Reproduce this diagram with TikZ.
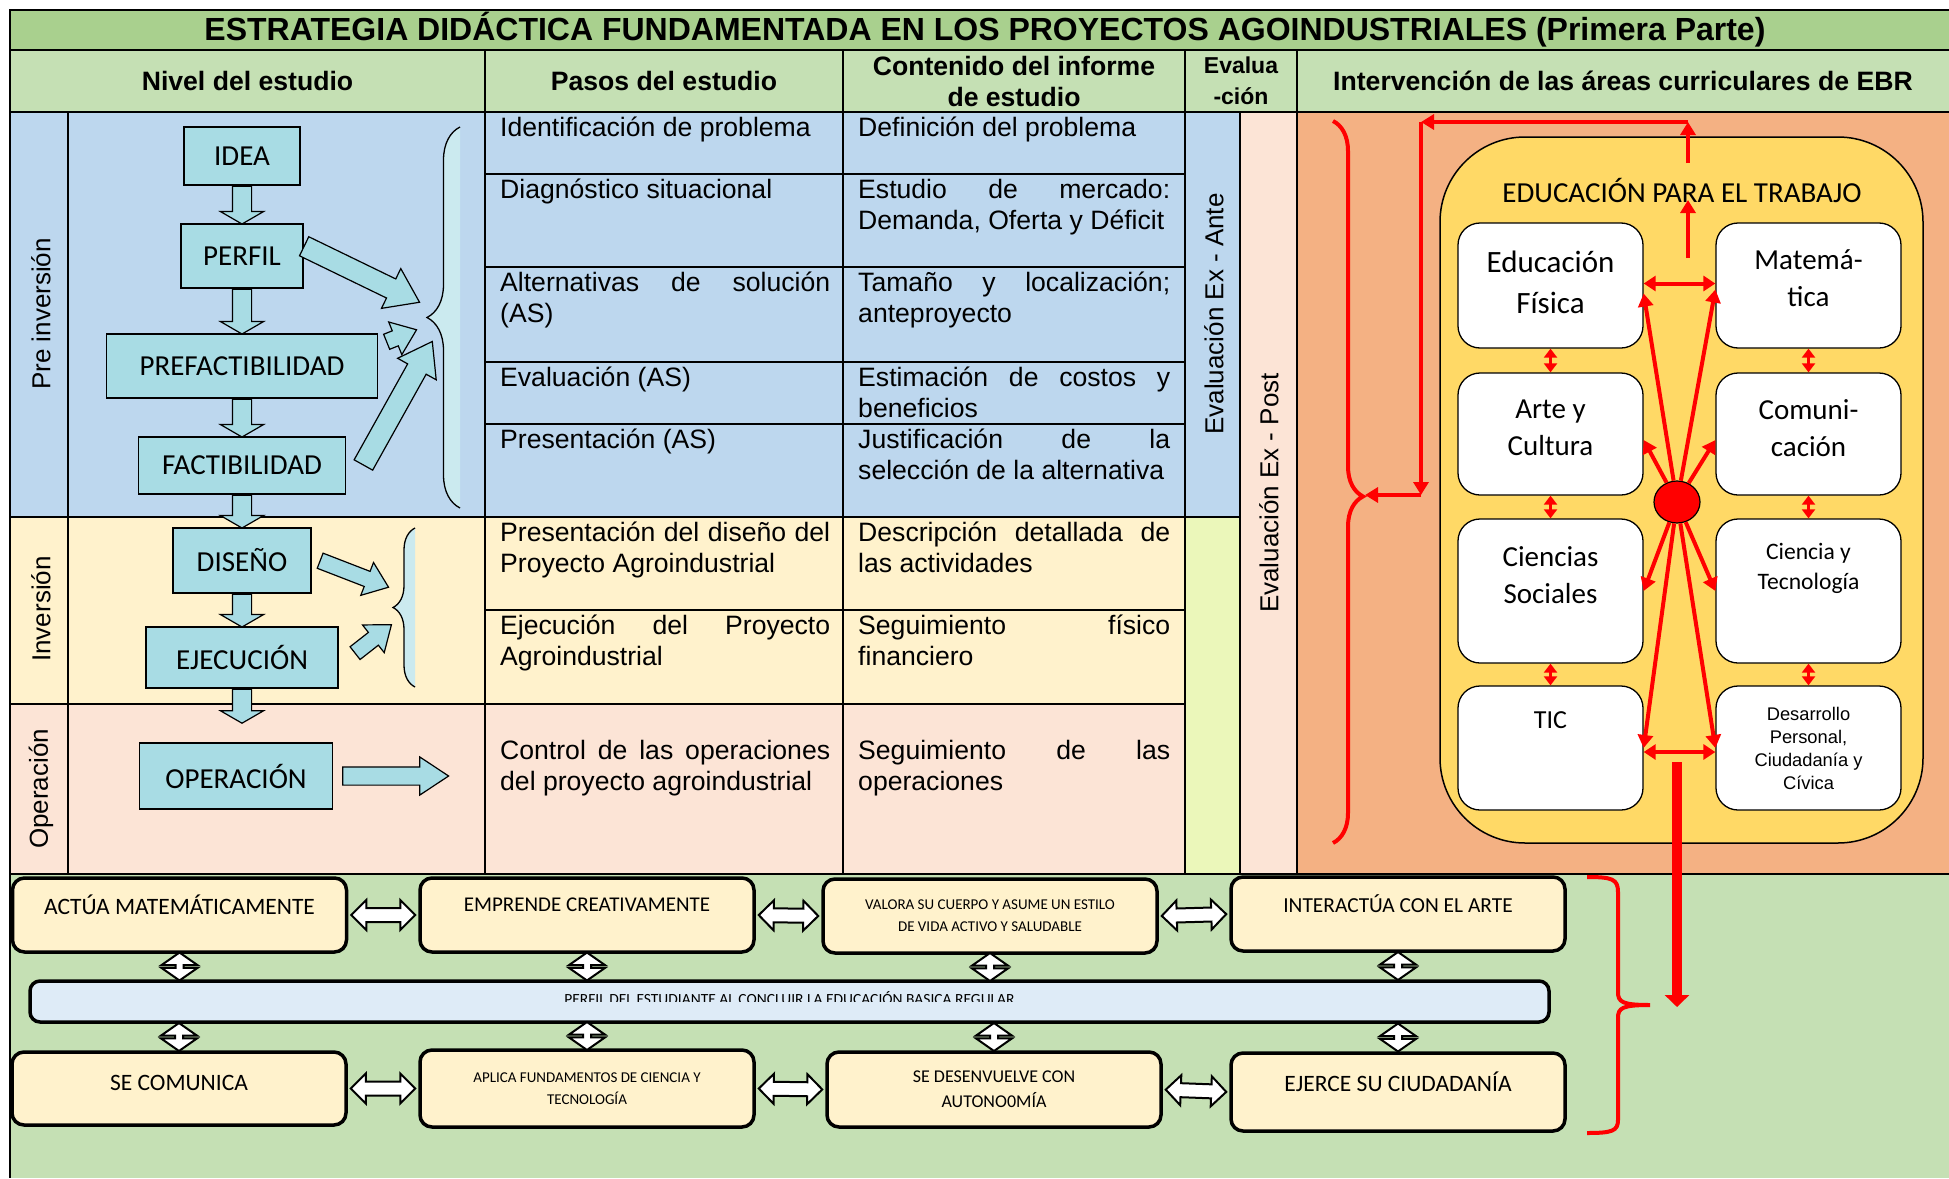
\documentclass[tikz,border=0pt]{standalone}
\usepackage{fontspec}
\setmainfont{Liberation Sans}
\newfontfamily\calibri{Carlito}
\usetikzlibrary{arrows.meta,positioning,shapes.geometric,shapes.arrows,calc,decorations.pathreplacing}

\definecolor{titlegreen}{HTML}{A9D08E}
\definecolor{headgreen}{HTML}{C5E0B4}
\definecolor{preblue}{HTML}{BDD7EE}
\definecolor{invyellow}{HTML}{FFF2CC}
\definecolor{oppink}{HTML}{FCE4D6}
\definecolor{antegreen}{HTML}{EBF7BA}
\definecolor{panelorange}{HTML}{F4B183}
\definecolor{eptyellow}{HTML}{FFD966}
\definecolor{aqua}{HTML}{A8DCE4}
\definecolor{barblue}{HTML}{DEEBF7}

\newcommand{\fs}[2]{\fontsize{#1}{#2}\selectfont}
\hyphenpenalty=10000
\tolerance=10000
\hbadness=10000

% block arrow: name, tail, tip
\newcommand{\blockarr}[4][]{%
  \path let \p1=($(#4)-(#3)$) in
    node[aquaarr, rotate={atan2(\y1,\x1)}, minimum height={veclen(\x1,\y1)}, #1] (#2) at (#3) {};}
% white double arrow: name, from, to
\newcommand{\dblarr}[4][]{%
  \path let \p1=($(#4)-(#3)$) in
    node[twoway, rotate={atan2(\y1,\x1)}, minimum height={veclen(\x1,\y1)-6}, #1] (#2) at ($(#3)!0.5!(#4)$) {};}

\begin{document}
\begin{tikzpicture}[x=1pt, y=-1pt,
  grid/.style={line width=1.6pt},
  hdr/.style={font=\bfseries\fs{26.6}{31}, align=center, inner sep=0pt},
  cellL/.style={anchor=north west, text width=330pt, align=justify, inner sep=0pt, font=\fs{26.6}{31}},
  cellR/.style={cellL, text width=312pt},
  phase/.style={rotate=90, font=\fs{26}{30}, inner sep=0pt},
  flowbox/.style={draw, line width=1.2pt, fill=aqua, font=\calibri\fs{29}{33}, inner sep=0pt},
  aquaarr/.style={single arrow, draw, line width=1.2pt, fill=aqua, inner xsep=0pt, inner ysep=7.5pt, anchor=tail,
    single arrow head extend=9.5pt, single arrow tip angle=75},
  downarr/.style={inner ysep=9pt, single arrow head extend=12pt, single arrow tip angle=120},
  bigarr/.style={inner ysep=10pt, single arrow head extend=11.5pt, single arrow tip angle=70},
  flowbrace/.style={decorate, decoration={brace, amplitude=#1}, draw, line width=1.3pt, fill=aqua!60},
  ept/.style={draw, line width=1.5pt, fill=eptyellow, rounded corners=85pt, minimum width=483pt, minimum height=706pt},
  area/.style={draw, line width=1.3pt, fill=white, rounded corners=22pt, minimum width=185pt, inner sep=0pt},
  areatxt/.style={font=\calibri\fs{29}{37}, align=center, inner sep=0pt},
  redarr/.style={draw=red, line width=4pt, -{Triangle[length=13pt,width=15pt]}},
  redtwo/.style={draw=red, line width=4pt, {Triangle[length=12pt,width=15pt]}-{Triangle[length=12pt,width=15pt]}},
  redtiny/.style={draw=red, line width=3pt, {Triangle[length=9pt,width=13pt]}-{Triangle[length=9pt,width=13pt]}},
  redbrace/.style={draw=red, line width=4pt},
  comp/.style={draw, line width=3.5pt, fill=invyellow, rounded corners=12pt, minimum width=334pt, inner sep=0pt, align=center},
  twoway/.style={double arrow, draw, line width=2pt, fill=white, inner xsep=0pt, inner ysep=6pt,
    double arrow head extend=8pt, double arrow tip angle=90},
  diam/.style={minimum height=28pt, inner ysep=3pt, double arrow head extend=14pt, double arrow tip angle=110}
]
\useasboundingbox (0,0) rectangle (1949,1178);

% backgrounds
\fill[titlegreen] (10,10) rectangle (1949,50);
\fill[headgreen] (10,50) rectangle (1949,112);
\fill[preblue] (10,112) rectangle (1240,517);
\fill[invyellow] (10,517) rectangle (1185,704);
\fill[oppink] (10,704) rectangle (1185,874);
\fill[antegreen] (1185,517) rectangle (1240,874);
\fill[oppink] (1240,112) rectangle (1297,874);
\fill[panelorange] (1297,112) rectangle (1949,874);
\fill[headgreen] (10,874) rectangle (1949,1178);

% table lines
\draw[grid] (1949,10) -- (10,10) -- (10,1178);
\foreach \y in {50,112,874} \draw[grid] (10,\y) -- (1949,\y);
\foreach \x in {485,843,1185,1297} \draw[grid] (\x,50) -- (\x,874);
\draw[grid] (68,112) -- (68,874);
\draw[grid] (1240,112) -- (1240,874);
\foreach \y in {174,267,362,424,610} \draw[grid] (485,\y) -- (1185,\y);
\draw[grid] (10,517) -- (1240,517);
\draw[grid] (10,704) -- (1185,704);

% headings
\node[font=\bfseries\fs{32}{36}, inner sep=0pt] (title) at (985,30)
  {ESTRATEGIA DIDÁCTICA FUNDAMENTADA EN LOS PROYECTOS AGOINDUSTRIALES (Primera Parte)};
\node[hdr] (hnivel) at (247.5,81) {Nivel del estudio};
\node[hdr] (hpasos) at (664,81) {Pasos del estudio};
\node[hdr] (hcont) at (1014,81) {Contenido del informe\\de estudio};
\node[hdr, font=\bfseries\fs{23}{31}] (heval) at (1241,81) {Evalua\\-ción};
\node[hdr] (hinter) at (1623,81) {Intervención de las áreas curriculares de EBR};

\node[phase] (lpre) at (41,314) {Pre inversión};
\node[phase] (linv) at (41,609) {Inversión};
\node[phase] (lop) at (41,789) {Operación};
\node[phase] (lante) at (1214,314) {Evaluación Ex - Ante};
\node[phase] (lpost) at (1269,493) {Evaluación Ex - Post};

% pasos / contenido
\node[cellL] (p1) at (500,113.5) {\vphantom{Á}Identificación de problema};
\node[cellR] (c1) at (858,113.5) {\vphantom{Á}Definición del problema};
\node[cellL] (p2) at (500,175.5) {\vphantom{Á}Diagnóstico situacional};
\node[cellR] (c2) at (858,175.5) {\vphantom{Á}Estudio de mercado: Demanda, Oferta y Déficit};
\node[cellL] (p3) at (500,268.5) {\vphantom{Á}Alternativas de solución (AS)};
\node[cellR] (c3) at (858,268.5) {\vphantom{Á}Tamaño y localización; anteproyecto};
\node[cellL] (p4) at (500,363.5) {\vphantom{Á}Evaluación (AS)};
\node[cellR] (c4) at (858,363.5) {\vphantom{Á}Estimación de costos y beneficios};
\node[cellL] (p5) at (500,425.5) {\vphantom{Á}Presentación (AS)};
\node[cellR] (c5) at (858,425.5) {\vphantom{Á}Justificación de la selección de la alternativa};
\node[cellL] (p6) at (500,518.5) {\vphantom{Á}Presentación del diseño del Proyecto Agroindustrial};
\node[cellR] (c6) at (858,518.5) {\vphantom{Á}Descripción detallada de las actividades};
\node[cellL] (p7) at (500,611.5) {\vphantom{Á}Ejecución del Proyecto Agroindustrial};
\node[cellR] (c7) at (858,611.5) {\vphantom{Á}Seguimiento físico financiero};
\node[cellL] (p8) at (500,736.5) {\vphantom{Á}Control de las operaciones del proyecto agroindustrial};
\node[cellR] (c8) at (858,736.5) {\vphantom{Á}Seguimiento de las operaciones};

% flow of the study levels
\node[flowbox, minimum width=116pt, minimum height=58pt] (idea) at (242,156) {IDEA};
\node[flowbox, minimum width=122pt, minimum height=64pt] (perfil) at (242,256) {PERFIL};
\node[flowbox, minimum width=271pt, minimum height=64pt] (prefac) at (242,366) {PREFACTIBILIDAD};
\node[flowbox, minimum width=207pt, minimum height=57pt] (fact) at (242,465.5) {FACTIBILIDAD};
\node[flowbox, minimum width=138pt, minimum height=65pt] (diseno) at (242,560.5) {DISEÑO};
\node[flowbox, minimum width=192pt, minimum height=61pt] (ejec) at (242,657.5) {EJECUCIÓN};
\node[flowbox, minimum width=193pt, minimum height=66pt] (oper) at (236,776) {OPERACIÓN};

\blockarr[downarr]{d1}{idea.south}{perfil.north}
\blockarr[downarr]{d2}{perfil.south}{prefac.north}
\blockarr[downarr]{d3}{prefac.south}{fact.north}
\blockarr[downarr]{d4}{fact.south}{diseno.north}
\blockarr[downarr]{d5}{diseno.south}{ejec.north}
\blockarr[downarr]{d6}{ejec.south}{[yshift=-34pt]ejec.south}

\draw[flowbrace=33pt] (460,508) -- (460,127);
\draw[flowbrace=22pt] (415,687) -- (415,528);

\blockarr[bigarr]{s1}{[yshift=10pt]perfil.east}{419,302}
\blockarr{s2}{[xshift=8pt,yshift=24pt]prefac.east}{416,330}
\blockarr[bigarr]{s3}{[xshift=17pt]fact.east}{432,342}
\blockarr{s4}{[xshift=8pt]diseno.east}{388,587}
\blockarr{s5}{[xshift=16pt,yshift=4pt]ejec.east}{391,625}
\blockarr[inner ysep=8.5pt, single arrow head extend=10pt, single arrow tip angle=67]{s6}{[xshift=9pt]oper.east}{448,776}

% curricular areas
\draw[redbrace, decorate, decoration={brace, amplitude=30pt, aspect=0.52}] (1333,121) -- (1333,843);
\node[ept] (ept) at (1681.5,490) {};
\node[font=\calibri\fs{29}{33}, inner sep=0pt] (eptlbl) at (1682,190) {EDUCACIÓN PARA EL TRABAJO};

\node[area, minimum height=125pt] (edfis) at (1550.5,285.5) {};
\node[area, minimum height=125pt] (matem) at (1808.5,285.5) {};
\node[area, minimum height=122pt] (arte) at (1550.5,434) {};
\node[area, minimum height=122pt] (comun) at (1808.5,434) {};
\node[area, minimum height=144pt] (csoc) at (1550.5,591) {};
\node[area, minimum height=144pt] (cytec) at (1808.5,591) {};
\node[area, minimum height=124pt] (tic) at (1550.5,748) {};
\node[area, minimum height=124pt] (desar) at (1808.5,748) {};

\node[areatxt, font=\calibri\fs{31}{41}] (edfistxt) at (1550.5,282) {Educación\\Física};
\node[areatxt] (matemtxt) at (1808.5,278) {Matemá-\\tica};
\node[areatxt] (artetxt) at (1550.5,428) {Arte y\\Cultura};
\node[areatxt] (comuntxt) at (1808.5,428) {Comuni-\\cación};
\node[areatxt] (csoctxt) at (1550.5,575) {Ciencias\\Sociales};
\node[areatxt, font=\calibri\fs{23.6}{30}] (cytectxt) at (1808.5,568) {Ciencia y\\Tecnología};
\node[areatxt, font=\calibri\fs{26}{30}] (tictxt) at (1550.5,720) {TIC};
\node[areatxt, font=\fs{18.3}{23}] (desartxt) at (1808.5,748) {Desarrollo\\Personal,\\Ciudadanía y\\Cívica};

\node[draw, line width=1.2pt, fill=red, ellipse, minimum width=46pt, minimum height=42pt, inner sep=0pt] (dot) at (1677,502) {};

\draw[redtwo] ([yshift=2pt]edfis.east) -- ([yshift=2pt]matem.west);
\draw[redtwo] ([yshift=-4pt]tic.east) -- ([yshift=-4pt]desar.west);
\foreach \a/\b in {edfis/arte, arte/csoc, csoc/tic, matem/comun, comun/cytec, cytec/desar}
  \draw[redtiny] (\a.south) -- (\b.north);

\draw[redarr] (dot) -- ([yshift=-8pt]edfis.east);
\draw[redarr] (dot) -- ([yshift=-4pt]matem.west);
\draw[redarr] (dot) -- ([yshift=-6pt]arte.east);
\draw[redarr] (dot) -- ([yshift=-6pt]comun.west);
\draw[redarr] (dot) -- (csoc.east);
\draw[redarr] (dot) -- (cytec.west);
\draw[redarr] (dot) -- (tic.east);
\draw[redarr] (dot) -- (desar.west);

\coordinate (upA) at (1688,258);
\coordinate (upB) at (1688,200);
\coordinate (loopA) at (1688,163);
\coordinate (loopB) at (1688,122);
\coordinate (loopC) at (1421,122);
\coordinate (loopD) at (1421,495);
\coordinate (bracetip) at (1365,495);
\draw[redarr] (upA) -- (upB);
\draw[redarr] (loopA) -- (loopB);
\draw[redarr] (loopB) -- (loopC);
\draw[redarr] (loopC) -- (loopD);
\draw[redarr] (loopD) -- (bracetip);

% profile of the student
\node[comp, minimum height=74pt, font=\calibri\fs{23.5}{28}, text depth=20pt] (actua) at (179.5,915) {ACTÚA MATEMÁTICAMENTE};
\node[comp, minimum height=74pt, font=\calibri\fs{21}{26}, text depth=20pt] (empr) at (587,915) {EMPRENDE CREATIVAMENTE};
\node[comp, minimum height=74pt, font=\calibri\fs{15}{22}] (valora) at (990,916) {VALORA SU CUERPO Y ASUME UN ESTILO\\DE VIDA ACTIVO Y SALUDABLE};
\node[comp, minimum height=74pt, font=\calibri\fs{21.4}{26}, text depth=20pt] (inter) at (1398,914) {INTERACTÚA CON EL ARTE};
\node[draw, line width=3.5pt, fill=barblue, rounded corners=10pt, minimum width=1519pt, minimum height=41pt] (bar) at (789.5,1001.5) {};
\node[comp, minimum height=73pt, font=\calibri\fs{23.5}{28}, text depth=11pt] (secom) at (179,1088.5) {SE COMUNICA};
\node[comp, minimum height=77pt, font=\calibri\fs{15}{22}] (aplica) at (587,1088.5) {APLICA FUNDAMENTOS DE CIENCIA Y\\TECNOLOGÍA};
\node[comp, minimum height=75pt, font=\calibri\fs{18}{25}] (sedes) at (994,1089.5) {SE DESENVUELVE CON\\AUTONO0MÍA};
\node[comp, minimum height=78pt, font=\calibri\fs{23.5}{28}, text depth=20pt] (ejerce) at (1398,1092) {EJERCE SU CIUDADANÍA};

\begin{scope}
  \clip (bar.north west) rectangle (bar.east);
  \node[font=\calibri\fs{15.5}{18}, anchor=base, inner sep=0pt] (perfiltxt) at (789.5,1004)
    {PERFIL DEL ESTUDIANTE AL CONCLUIR LA EDUCACIÓN BASICA REGULAR};
\end{scope}

\dblarr{h1}{actua.east}{empr.west}
\dblarr{h2}{empr.east}{valora.west}
\dblarr{h3}{valora.east}{inter.west}
\dblarr{h4}{secom.east}{aplica.west}
\dblarr{h5}{aplica.east}{sedes.west}
\dblarr{h6}{sedes.east}{ejerce.west}
\foreach \b [count=\i] in {actua,empr,valora,inter}
  {\dblarr[diam]{vt\i}{\b.south}{\b.south |- bar.north}}
\foreach \b [count=\i] in {secom,aplica,sedes,ejerce}
  {\dblarr[diam]{vb\i}{\b.north |- bar.south}{\b.north}}

\draw[redbrace] (1587,877) .. controls (1612,877) and (1618,879) .. (1618,892) -- (1618,992)
  .. controls (1618,1002) and (1622,1005) .. (1650,1005)
  .. controls (1622,1005) and (1618,1008) .. (1618,1018) -- (1618,1120)
  .. controls (1618,1131) and (1612,1133) .. (1587,1133);
\coordinate (drop) at (1677,762);
\coordinate (dropend) at (1677,1007);
\draw[draw=red, line width=10pt, -{Triangle[length=12pt,width=24pt]}] (drop) -- (dropend);
\end{tikzpicture}
\end{document}
